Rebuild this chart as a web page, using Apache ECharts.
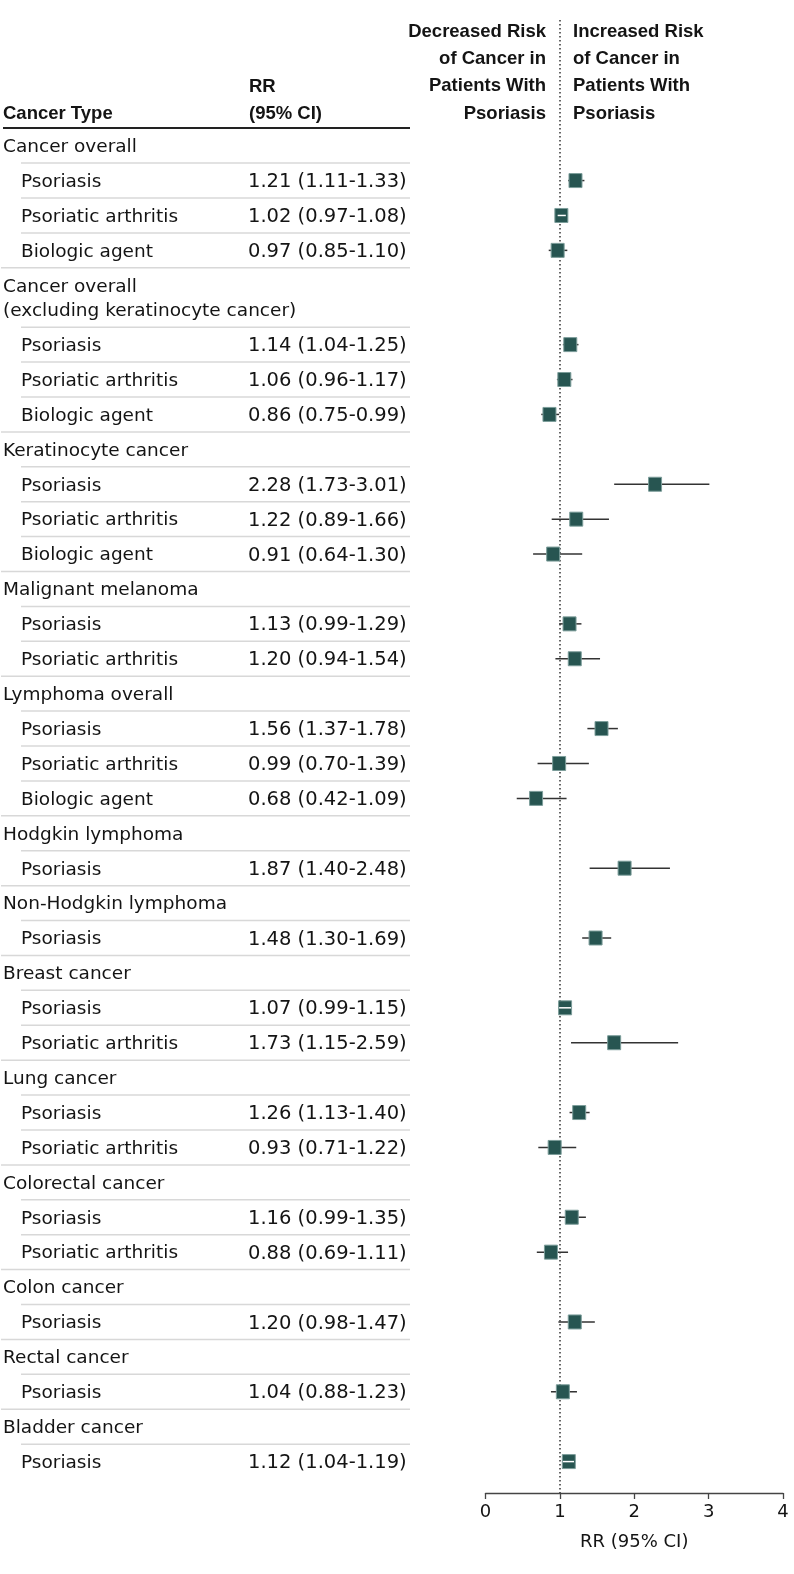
<!DOCTYPE html>
<html>
<head>
<meta charset="utf-8">
<script src="https://cdn.jsdelivr.net/npm/echarts@6/dist/echarts.min.js"></script>
<style>
  html, body { margin: 0; padding: 0; background: #ffffff; }
  #chart { width: 794px; height: 1574px; }
</style>
</head>
<body>
<div id="chart"></div>
<script>
// ---------------- DATA ----------------
const groupNames = [
  'Cancer overall',
  'Cancer overall\n(excluding keratinocyte cancer)',
  'Keratinocyte cancer',
  'Malignant melanoma',
  'Lymphoma overall',
  'Hodgkin lymphoma',
  'Non-Hodgkin lymphoma',
  'Breast cancer',
  'Lung cancer',
  'Colorectal cancer',
  'Colon cancer',
  'Rectal cancer',
  'Bladder cancer'
];
const estimateGroup = [0,0,0, 1,1,1, 2,2,2, 3,3, 4,4,4, 5, 6, 7,7, 8,8, 9,9, 10, 11, 12];
const exposure = [
  'Psoriasis','Psoriatic arthritis','Biologic agent',
  'Psoriasis','Psoriatic arthritis','Biologic agent',
  'Psoriasis','Psoriatic arthritis','Biologic agent',
  'Psoriasis','Psoriatic arthritis',
  'Psoriasis','Psoriatic arthritis','Biologic agent',
  'Psoriasis',
  'Psoriasis',
  'Psoriasis','Psoriatic arthritis',
  'Psoriasis','Psoriatic arthritis',
  'Psoriasis','Psoriatic arthritis',
  'Psoriasis',
  'Psoriasis',
  'Psoriasis'
];
const rr     = [1.21,1.02,0.97, 1.14,1.06,0.86, 2.28,1.22,0.91, 1.13,1.20, 1.56,0.99,0.68, 1.87, 1.48, 1.07,1.73, 1.26,0.93, 1.16,0.88, 1.20, 1.04, 1.12];
const ciLow  = [1.11,0.97,0.85, 1.04,0.96,0.75, 1.73,0.89,0.64, 0.99,0.94, 1.37,0.70,0.42, 1.40, 1.30, 0.99,1.15, 1.13,0.71, 0.99,0.69, 0.98, 0.88, 1.04];
const ciHigh = [1.33,1.08,1.10, 1.25,1.17,0.99, 3.01,1.66,1.30, 1.29,1.54, 1.78,1.39,1.09, 2.48, 1.69, 1.15,2.59, 1.40,1.22, 1.35,1.11, 1.47, 1.23, 1.19];
const xTickLabels = ['0','1','2','3','4'];
const xTitle = 'RR (95% CI)';
const leftHeader = 'Cancer Type';
const rrHeader = ['RR', '(95% CI)'];
const decreasedLabel = 'Decreased Risk\nof Cancer in\nPatients With\nPsoriasis';
const increasedLabel = 'Increased Risk\nof Cancer in\nPatients With\nPsoriasis';

// ---------------- LAYOUT (row slots) ----------------
const tableData = [];   // [x(dummy), center, type(0 header / 1 estimate), refIndex, height, nextType]
const forestData = [];  // [rr, center, lo, hi]
let cursor = -0.5;
let prevGroup = -1;
for (let i = 0; i < rr.length; i++) {
  const g = estimateGroup[i];
  if (g !== prevGroup) {
    const nLines = groupNames[g].split('\n').length;
    const h = nLines > 1 ? 1.7 : 1;
    tableData.push([0, cursor + h / 2, 0, g, h, 1]);
    cursor += h;
    prevGroup = g;
  }
  const center = cursor + 0.5;
  const next = (i + 1 < rr.length) ? (estimateGroup[i + 1] !== g ? 0 : 1) : -1;
  tableData.push([0, center, 1, i, 1, next]);
  forestData.push([rr[i], center, ciLow[i], ciHigh[i]]);
  cursor += 1;
}
const yMin = -3.6;
const yMax = cursor + 0.4;

const FONT_TXT = '18.5px "DejaVu Sans"';
const FONT_NUM = '19.5px "DejaVu Sans"';
const FONT_BOLD = 'bold 18.5px "Liberation Sans"';
const INK = '#141414';
const TXT_DY = 1.5;

function renderTable(params, api) {
  const center = api.value(1);
  const type = api.value(2);
  const ref = api.value(3);
  const h = api.value(4);
  const nextType = api.value(5);
  const yc = api.coord([0, center])[1] + TXT_DY;
  const yBottom = api.coord([0, center + h / 2])[1];
  const children = [];
  if (type === 0) {
    const lines = groupNames[ref].split('\n');
    lines.forEach(function (ln, k) {
      children.push({
        type: 'text', x: 3, y: yc + (k - (lines.length - 1) / 2) * 24,
        style: { text: ln, font: FONT_TXT, fill: INK, align: 'left', verticalAlign: 'middle' }
      });
    });
  } else {
    children.push({
      type: 'text', x: 21, y: yc,
      style: { text: exposure[ref], font: FONT_TXT, fill: INK, align: 'left', verticalAlign: 'middle' }
    });
    children.push({
      type: 'text', x: 248, y: yc,
      style: {
        text: rr[ref].toFixed(2) + ' (' + ciLow[ref].toFixed(2) + '-' + ciHigh[ref].toFixed(2) + ')',
        font: FONT_NUM, fill: INK, align: 'left', verticalAlign: 'middle'
      }
    });
  }
  if (nextType !== -1) {
    children.push({
      type: 'line',
      shape: { x1: nextType === 0 ? 1 : 21, y1: yBottom, x2: 410, y2: yBottom },
      style: { stroke: '#d8d8d8', lineWidth: 1.5 }
    });
  }
  return { type: 'group', children: children };
}

function renderForest(params, api) {
  const v = api.value(0), u = api.value(1), lo = api.value(2), hi = api.value(3);
  const c = api.coord([v, u]);
  const pl = api.coord([lo, u]);
  const ph = api.coord([hi, u]);
  const bw = 13, bh = 14;
  const children = [
    { type: 'line', shape: { x1: pl[0], y1: c[1], x2: ph[0], y2: c[1] }, style: { stroke: '#333333', lineWidth: 1.5 } },
    { type: 'rect', shape: { x: c[0] - bw / 2, y: c[1] - bh / 2, width: bw, height: bh },
      style: { fill: '#275551', stroke: '#7c9d9a', lineWidth: 1 } }
  ];
  if (pl[0] >= c[0] - bw / 2 && ph[0] <= c[0] + bw / 2) {
    children.push({ type: 'line', shape: { x1: pl[0], y1: c[1], x2: ph[0], y2: c[1] }, style: { stroke: '#ffffff', lineWidth: 1.5 } });
  }
  return { type: 'group', children: children };
}

const chart = echarts.init(document.getElementById('chart'), null, { renderer: 'canvas' });
chart.setOption({
  animation: false,
  backgroundColor: '#ffffff',
  grid: { left: 485.5, right: 11, top: 20, bottom: 81, containLabel: false },
  xAxis: {
    type: 'value', min: 0, max: 4, interval: 1, position: 'bottom',
    axisLine: { show: true, onZero: false, lineStyle: { color: '#444444', width: 1.3 } },
    axisTick: { show: true, length: 6, inside: false, lineStyle: { color: '#444444', width: 1.3 } },
    splitLine: { show: false },
    axisLabel: {
      margin: 10, fontSize: 18, fontFamily: 'DejaVu Sans', color: INK,
      formatter: function (val) { return xTickLabels[Math.round(val)]; }
    },
    name: xTitle, nameLocation: 'middle', nameGap: 40,
    nameTextStyle: { fontSize: 18, fontFamily: 'DejaVu Sans', color: INK }
  },
  yAxis: {
    type: 'value', inverse: true, min: yMin, max: yMax, show: false
  },
  graphic: [
    { type: 'text', x: 3, y: 113.5, style: { text: leftHeader, font: FONT_BOLD, fill: INK, align: 'left', verticalAlign: 'middle' } },
    { type: 'text', x: 249, y: 86.5, style: { text: rrHeader[0], font: FONT_BOLD, fill: INK, align: 'left', verticalAlign: 'middle' } },
    { type: 'text', x: 249, y: 113.5, style: { text: rrHeader[1], font: FONT_BOLD, fill: INK, align: 'left', verticalAlign: 'middle' } },
    { type: 'line', shape: { x1: 3, y1: 128, x2: 410, y2: 128 }, style: { stroke: '#222222', lineWidth: 2 } },
    { type: 'text', x: 546, y: 18, style: { text: decreasedLabel, font: FONT_BOLD, fill: INK, align: 'right', verticalAlign: 'top', lineHeight: 27.3 } },
    { type: 'text', x: 573, y: 18, style: { text: increasedLabel, font: FONT_BOLD, fill: INK, align: 'left', verticalAlign: 'top', lineHeight: 27.3 } }
  ],
  series: [
    {
      type: 'custom', name: 'table', coordinateSystem: 'cartesian2d', clip: false,
      encode: { x: 0, y: 1 }, renderItem: renderTable, data: tableData, silent: true, z: 2
    },
    {
      type: 'custom', name: 'forest', coordinateSystem: 'cartesian2d', clip: false,
      encode: { x: [0, 2, 3], y: 1 }, renderItem: renderForest, data: forestData, silent: true, z: 5,
      markLine: {
        silent: true, symbol: ['none', 'none'], label: { show: false }, z: 3,
        lineStyle: { type: [1.5, 2.5], color: '#333333', width: 1.5 },
        data: [{ xAxis: 1 }]
      }
    }
  ]
});
</script>
</body>
</html>
